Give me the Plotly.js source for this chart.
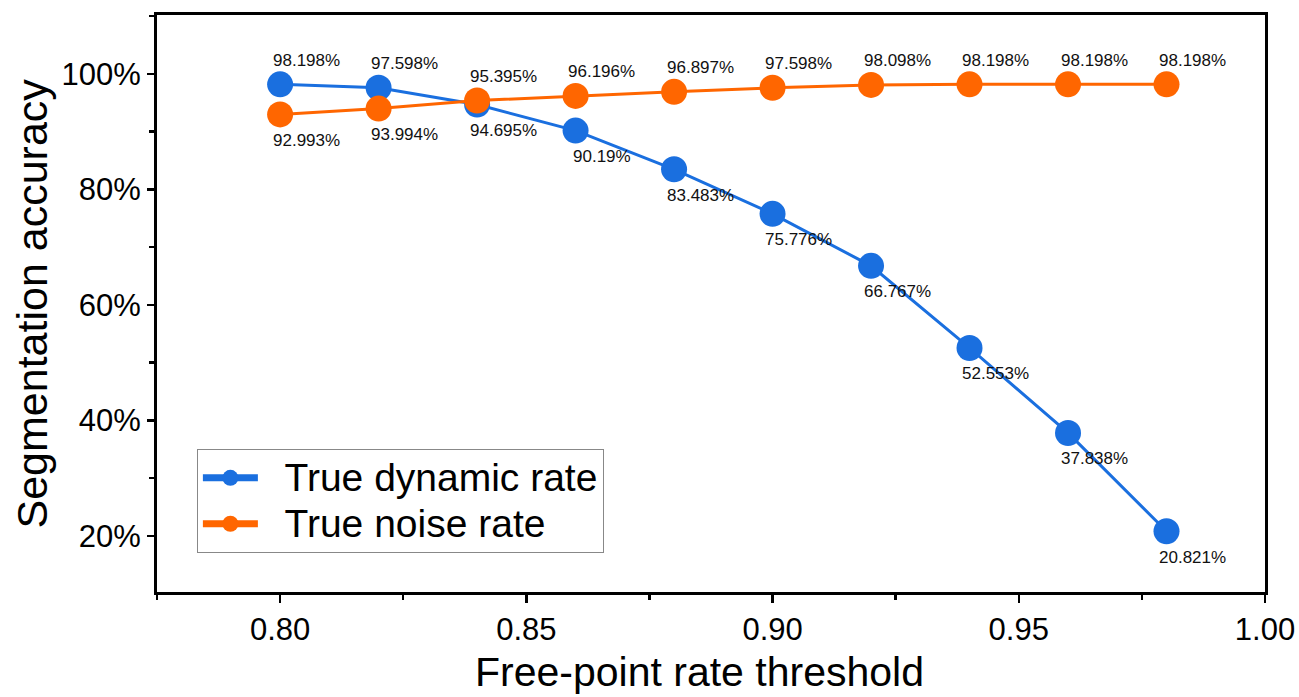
<!DOCTYPE html>
<html>
<head>
<meta charset="utf-8">
<script src="https://cdn.plot.ly/plotly-3.0.1.min.js"></script>
<style>html,body{margin:0;padding:0;background:#fff;}#chart{width:1299px;height:697px;}</style>
</head>
<body>
<div id="chart"></div>
<script>
// Data
var thresholds = [0.80, 0.82, 0.84, 0.86, 0.88, 0.90, 0.92, 0.94, 0.96, 0.98];
var dynamicRate = [98.198, 97.598, 94.695, 90.19, 83.483, 75.776, 66.767, 52.553, 37.838, 20.821];
var noiseRate = [92.993, 93.994, 95.395, 96.196, 96.897, 97.598, 98.098, 98.198, 98.198, 98.198];
var seriesNames = ['True dynamic rate', 'True noise rate'];
var yTickVals = [20, 40, 60, 80, 100];
var xTickVals = [0.80, 0.85, 0.90, 0.95, 1.00];
var xTitle = 'Free-point rate threshold';
var yTitle = 'Segmentation accuracy';

// Label placement (style): 'a' above, 'b' below
var dynPlace = ['a','a','b','b','b','b','b','b','b','b'];
var noisePlace = ['b','b','a','a','a','a','a','a','a','a'];

var blue = 'rgb(26,111,223)';
var orange = 'rgb(255,102,0)';
var FONT = 'Arial, "Liberation Sans", sans-serif';

function legendName(s) { return '<span style="font-size:39px">&nbsp;&nbsp;' + s + '</span>'; }

var traces = [
  {x: thresholds, y: dynamicRate, name: seriesNames[0], type: 'scatter', mode: 'lines+markers', showlegend: false,
   line: {color: blue, width: 3}, marker: {color: blue, size: 26}},
  {x: thresholds, y: noiseRate, name: seriesNames[1], type: 'scatter', mode: 'lines+markers', showlegend: false,
   line: {color: orange, width: 3}, marker: {color: orange, size: 26}},
  // legend entries (thicker legend symbols as in the reference)
  {x: [null], y: [null], name: legendName(seriesNames[0]), type: 'scatter', mode: 'lines+markers',
   line: {color: blue, width: 7}, marker: {color: blue, size: 20}},
  {x: [null], y: [null], name: legendName(seriesNames[1]), type: 'scatter', mode: 'lines+markers',
   line: {color: orange, width: 7}, marker: {color: orange, size: 20}}
];

var annotations = [];
function addLabels(xs, ys, place) {
  for (var i = 0; i < xs.length; i++) {
    annotations.push({
      x: xs[i], y: ys[i], xref: 'x', yref: 'y', text: String(ys[i]) + '%',
      showarrow: false, xshift: 26, yshift: place[i] === 'a' ? 24 : -26,
      font: {family: FONT, size: 17, color: '#111'}
    });
  }
}
addLabels(thresholds, dynamicRate, dynPlace);
addLabels(thresholds, noiseRate, noisePlace);

// axis titles as annotations (positioned like the reference)
annotations.push({xref: 'paper', yref: 'paper', x: -0.1137, y: 0.5, xanchor: 'center', yanchor: 'middle',
  text: yTitle, textangle: -90, showarrow: false, font: {family: FONT, size: 43, color: '#000'}});
annotations.push({xref: 'paper', yref: 'paper', x: 0.490, y: -0.138, xanchor: 'center', yanchor: 'middle',
  text: xTitle, showarrow: false, font: {family: FONT, size: 41, color: '#000'}});

var layout = {
  width: 1299, height: 697,
  margin: {l: 157, r: 34, t: 15, b: 105},
  paper_bgcolor: '#fff', plot_bgcolor: '#fff',
  font: {family: FONT, color: '#000'},
  showlegend: true,
  legend: {x: 0.036, y: 0.248, xanchor: 'left', yanchor: 'top',
    bgcolor: '#fff', bordercolor: '#888', borderwidth: 1,
    font: {family: FONT, size: 33, color: '#000'}, itemwidth: 55},
  xaxis: {
    range: [0.775, 1.0], tickvals: xTickVals, ticktext: xTickVals.map(function(v){return v.toFixed(2);}),
    ticks: 'outside', ticklen: 8, tickwidth: 2.5, tickcolor: '#000',
    showline: true, linewidth: 3, linecolor: '#000', mirror: true,
    showgrid: false, zeroline: false,
    tickfont: {family: FONT, size: 31, color: '#000'},
    minor: {dtick: 0.025, tick0: 0.775, ticks: 'outside', ticklen: 5, tickwidth: 2.5, tickcolor: '#000', showgrid: false}
  },
  yaxis: {
    range: [10.3, 110.2], tickvals: yTickVals, ticktext: yTickVals.map(function(v){return v + '%';}),
    ticks: 'outside', ticklen: 7, tickwidth: 2.5, tickcolor: '#000',
    showline: true, linewidth: 3, linecolor: '#000', mirror: true,
    showgrid: false, zeroline: false,
    tickfont: {family: FONT, size: 31, color: '#000'},
    minor: {dtick: 10, tick0: 10, ticks: 'outside', ticklen: 5, tickwidth: 2.5, tickcolor: '#000', showgrid: false}
  },
  annotations: annotations
};

Plotly.newPlot('chart', traces, layout, {displayModeBar: false, staticPlot: true});
</script>
</body>
</html>
